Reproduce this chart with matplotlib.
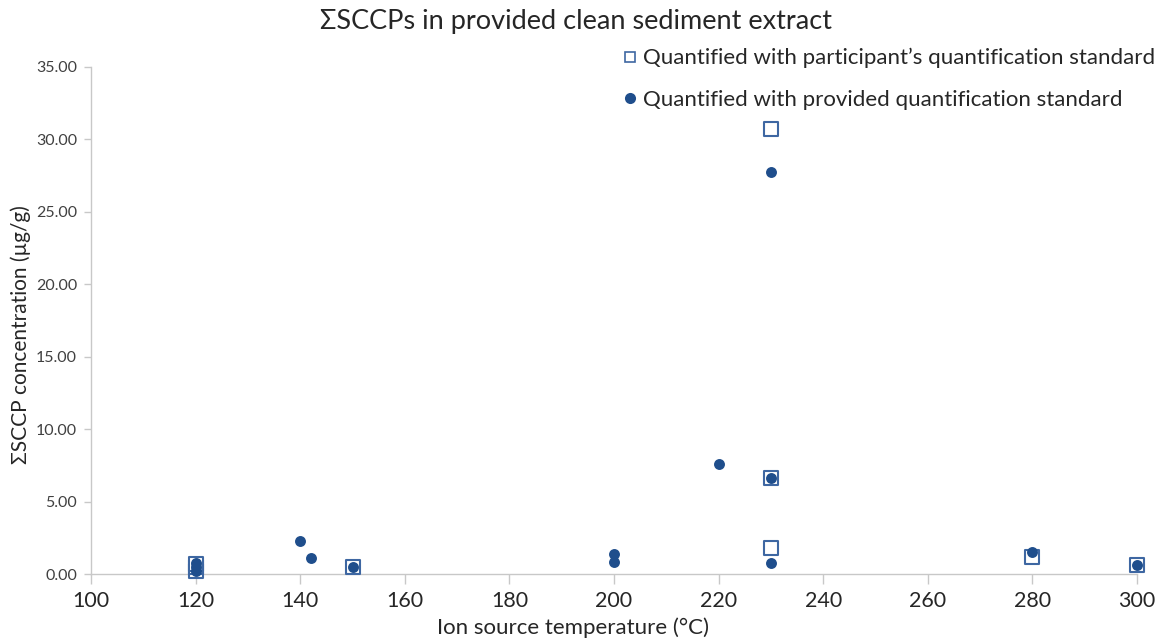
import matplotlib
matplotlib.use("Agg")
import matplotlib.pyplot as plt
from matplotlib.lines import Line2D

plt.rcParams['font.family'] = ['Lato', 'DejaVu Sans']

# Participant's own quantification standard
part_temp = [120, 120, 120, 150, 230, 230, 230, 280, 300]
part_conc = [0.20, 0.45, 0.70, 0.45, 30.70, 6.60, 1.80, 1.20, 0.60]

# Provided quantification standard
prov_temp = [120, 120, 120, 140, 142, 150, 200, 200, 220, 230, 230, 230, 280, 300]
prov_conc = [0.75, 0.45, 0.20, 2.28, 1.12, 0.45, 1.40, 0.85, 7.60, 27.75, 6.60, 0.78, 1.52, 0.65]

x_ticks = [100, 120, 140, 160, 180, 200, 220, 240, 260, 280, 300]
y_ticks = [0, 5, 10, 15, 20, 25, 30, 35]

navy = '#1F4E8C'
sq_edge = '#3E67A2'
grey = '#C8C8C8'
text_col = '#262626'

fig = plt.figure(figsize=(11.62, 6.39), dpi=100)
ax = fig.add_axes([91/1162, 1-574/639, (1137-91)/1162, (574-67)/639])

ax.scatter(part_temp, part_conc, marker='s', s=95, facecolors='white',
           edgecolors=sq_edge, linewidths=1.5, zorder=3, clip_on=False)
ax.scatter(prov_temp, prov_conc, marker='o', s=62, color=navy, zorder=4,
           clip_on=False, linewidths=0)

ax.set_xlim(100, 300)
ax.set_ylim(0, 35)
ax.set_xticks(x_ticks)
ax.set_yticks(y_ticks)
ax.set_yticklabels([f'{v:.2f}' for v in y_ticks])

for side in ['top', 'right']:
    ax.spines[side].set_visible(False)
for side in ['left', 'bottom']:
    ax.spines[side].set_color(grey)
    ax.spines[side].set_linewidth(1.0)

ax.tick_params(axis='x', direction='out', length=7, width=1, color=grey,
               labelsize=15.5, labelcolor=text_col, pad=5)
ax.tick_params(axis='y', direction='out', length=5, width=1, color=grey,
               labelsize=11.5, labelcolor='#404040', pad=5)

ax.set_xlabel('Ion source temperature (°C)', fontsize=16, color=text_col,
              ha='center', va='center')
ax.xaxis.set_label_coords(0.461, -0.1065)
ax.set_ylabel('ΣSCCP concentration (µg/g)', fontsize=15, color=text_col,
              ha='center', va='center')
ax.yaxis.set_label_coords(-0.0675, 0.473)

fig.text(576/1162, 1-22/639, 'ΣSCCPs in provided clean sediment extract',
         ha='center', va='center', fontsize=19.5, color=text_col)

handles = [
    Line2D([], [], marker='s', linestyle='none', markersize=7, markerfacecolor='white',
           markeredgecolor=sq_edge, markeredgewidth=1.2),
    Line2D([], [], marker='o', linestyle='none', markersize=8, markerfacecolor=navy,
           markeredgewidth=0),
]
labels = ["Quantified with participant’s quantification standard",
          "Quantified with provided quantification standard"]
fig.legend(handles, labels, loc='upper left', bbox_to_anchor=(621/1162, 1-48/639),
           frameon=False, fontsize=16, handlelength=0.8, handletextpad=0.2,
           labelspacing=0.98, labelcolor=text_col, borderpad=0, borderaxespad=0)

fig.savefig('out.png', dpi=100)
